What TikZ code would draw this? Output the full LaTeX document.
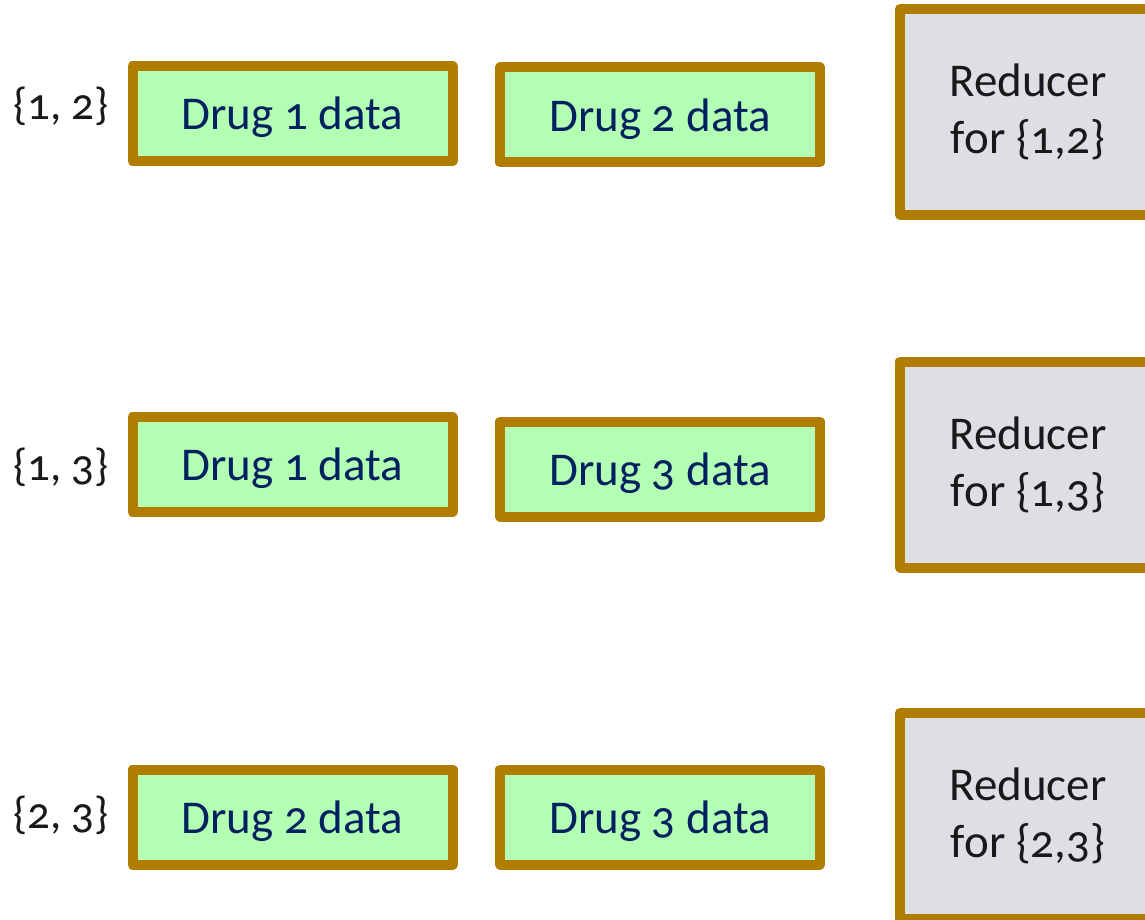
\documentclass[tikz,border=0pt]{standalone}
\usepackage{fontspec}
\setmainfont{Carlito}[Numbers=OldStyle]
\definecolor{bordergold}{RGB}{176,125,0}
\definecolor{druggreen}{RGB}{179,255,179}
\definecolor{redgray}{RGB}{222,223,228}
\definecolor{drugblue}{RGB}{0,32,96}
\begin{document}
\begin{tikzpicture}[x=1pt,y=-1pt,
  databox/.style={draw=bordergold, fill=druggreen, line width=10pt, line join=round,
    minimum width=320pt, minimum height=95pt, inner sep=0pt, text=drugblue,
    font=\fontsize{47}{56}\selectfont, text depth=4pt},
  reducerbox/.style={draw=bordergold, fill=redgray, line width=10pt, line join=round,
    minimum width=256pt, minimum height=206pt, inner sep=0pt, text=black!90,
    align=center, font=\fontsize{47}{57}\selectfont},
  setlabel/.style={inner sep=0pt, text=black!90, font=\fontsize{45}{54}\selectfont}]
\useasboundingbox[fill=white] (0,0) rectangle (1145,920);
% row 1
\node[setlabel] (l1) at (61,106) {\{1, 2\}};
\node[databox] (a1) at (292.5,113.5) {\lower4pt\hbox{Drug 1 data}};
\node[databox] (b1) at (660,115) {\lower4pt\hbox{Drug 2 data}};
\node[reducerbox] (r1) at (1028,112) {\lower3pt\hbox{Reducer}\\\lower3pt\hbox{for \{1,2\}}};
% row 2
\node[setlabel] (l2) at (61,467) {\{1, 3\}};
\node[databox] (a2) at (292.5,464.5) {\lower4pt\hbox{Drug 1 data}};
\node[databox] (b2) at (660,469) {\lower4pt\hbox{Drug 3 data}};
\node[reducerbox] (r2) at (1028,464.5) {\lower3pt\hbox{Reducer}\\\lower3pt\hbox{for \{1,3\}}};
% row 3
\node[setlabel] (l3) at (61,815) {\{2, 3\}};
\node[databox] (a3) at (292.5,817) {\lower4pt\hbox{Drug 2 data}};
\node[databox] (b3) at (660,817) {\lower4pt\hbox{Drug 3 data}};
\node[reducerbox] (r3) at (1028,816) {\lower3pt\hbox{Reducer}\\\lower3pt\hbox{for \{2,3\}}};
\end{tikzpicture}
\end{document}
